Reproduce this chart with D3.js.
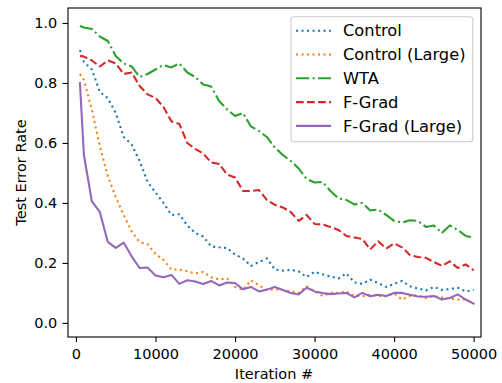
<!DOCTYPE html>
<html>
<head>
<meta charset="utf-8">
<script src="https://cdn.jsdelivr.net/npm/d3@7"></script>
<style>
  body { margin: 0; background: #fff; }
  text { font-family: "DejaVu Sans", sans-serif; }
</style>
</head>
<body>
<svg id="chart" width="502" height="383"></svg>
<script>
// Data
const iterations = [500, 1000, 2000, 3000, 4000, 5000, 6000, 7000, 8000, 9000,
  10000, 11000, 12000, 13000, 14000, 15000, 16000, 17000, 18000, 19000,
  20000, 21000, 22000, 23000, 24000, 25000, 26000, 27000, 28000, 29000,
  30000, 31000, 32000, 33000, 34000, 35000, 36000, 37000, 38000, 39000,
  40000, 41000, 42000, 43000, 44000, 45000, 46000, 47000, 48000, 49000, 50000];

const control = [0.91, 0.87, 0.845, 0.77, 0.75, 0.70, 0.62, 0.595, 0.54, 0.47,
  0.435, 0.40, 0.36, 0.362, 0.325, 0.30, 0.288, 0.255, 0.252, 0.25,
  0.228, 0.215, 0.19, 0.203, 0.215, 0.178, 0.174, 0.177, 0.172, 0.153,
  0.17, 0.162, 0.155, 0.148, 0.165, 0.135, 0.13, 0.144, 0.133, 0.12,
  0.13, 0.14, 0.122, 0.115, 0.108, 0.12, 0.11, 0.113, 0.117, 0.105, 0.11];

const controlLarge = [0.83, 0.81, 0.71, 0.59, 0.49, 0.42, 0.36, 0.305, 0.27, 0.262,
  0.23, 0.21, 0.178, 0.178, 0.172, 0.165, 0.17, 0.152, 0.145, 0.148,
  0.12, 0.11, 0.142, 0.125, 0.11, 0.112, 0.11, 0.105, 0.10, 0.122,
  0.105, 0.09, 0.10, 0.10, 0.105, 0.09, 0.089, 0.094, 0.09, 0.089,
  0.098, 0.078, 0.09, 0.092, 0.083, 0.089, 0.085, 0.082, 0.078, 0.078, 0.065];

const wta = [0.99, 0.985, 0.98, 0.955, 0.94, 0.89, 0.865, 0.855, 0.82, 0.83,
  0.845, 0.86, 0.852, 0.865, 0.835, 0.82, 0.795, 0.788, 0.74, 0.712,
  0.69, 0.70, 0.655, 0.64, 0.62, 0.585, 0.56, 0.54, 0.515, 0.48,
  0.468, 0.47, 0.44, 0.415, 0.41, 0.395, 0.40, 0.375, 0.378, 0.36,
  0.34, 0.335, 0.342, 0.34, 0.32, 0.325, 0.30, 0.325, 0.31, 0.29, 0.285];

const fGrad = [0.89, 0.888, 0.875, 0.855, 0.875, 0.865, 0.83, 0.835, 0.79, 0.762,
  0.75, 0.72, 0.672, 0.663, 0.60, 0.58, 0.565, 0.535, 0.53, 0.495,
  0.485, 0.44, 0.44, 0.443, 0.41, 0.394, 0.385, 0.37, 0.34, 0.36,
  0.33, 0.328, 0.32, 0.31, 0.29, 0.285, 0.28, 0.245, 0.272, 0.248,
  0.265, 0.252, 0.226, 0.22, 0.217, 0.203, 0.19, 0.205, 0.183, 0.195, 0.175];

const fGradLarge = [0.80, 0.56, 0.405, 0.37, 0.27, 0.25, 0.268, 0.222, 0.183, 0.185,
  0.158, 0.152, 0.16, 0.13, 0.142, 0.138, 0.13, 0.14, 0.125, 0.135,
  0.133, 0.112, 0.12, 0.105, 0.111, 0.12, 0.11, 0.10, 0.095, 0.117,
  0.105, 0.10, 0.096, 0.098, 0.10, 0.085, 0.10, 0.089, 0.094, 0.09,
  0.10, 0.10, 0.094, 0.088, 0.087, 0.09, 0.078, 0.083, 0.095, 0.078, 0.064];

const xTicks = [0, 10000, 20000, 30000, 40000, 50000];
const yTicks = [0.0, 0.2, 0.4, 0.6, 0.8, 1.0];

const series = [
  { name: "Control", values: control, color: "#1f77b4", dash: "2.08,3.43" },
  { name: "Control (Large)", values: controlLarge, color: "#ff7f0e", dash: "2.08,3.43" },
  { name: "WTA", values: wta, color: "#2ca02c", dash: "13.3,3.33,2.08,3.33" },
  { name: "F-Grad", values: fGrad, color: "#d62728", dash: "7.7,3.33" },
  { name: "F-Grad (Large)", values: fGradLarge, color: "#9467bd", dash: null }
];

const fontSize = 14.5;
const legendFont = 16.3;
const plotLeft = 68, plotRight = 481, plotTop = 8, plotBottom = 337;

const svg = d3.select("#chart");

const x = d3.scaleLinear().domain([-1000, 50925]).range([plotLeft, plotRight]);
const y = d3.scaleLinear().domain([-0.047, 1.05]).range([plotBottom, plotTop]);

// Axes
const xAxis = svg.append("g")
  .attr("transform", `translate(0,${plotBottom})`)
  .call(d3.axisBottom(x).tickValues(xTicks).tickFormat(d3.format("d"))
    .tickSize(5).tickPadding(6.3));

const yAxis = svg.append("g")
  .attr("transform", `translate(${plotLeft},0)`)
  .call(d3.axisLeft(y).tickValues(yTicks).tickFormat(d3.format(".1f"))
    .tickSize(5.5).tickPadding(5.2));

[xAxis, yAxis].forEach(a => {
  a.select(".domain").remove();
  a.selectAll("line").attr("stroke", "#000").attr("stroke-width", 1.1);
  a.selectAll("text").attr("font-size", fontSize).attr("fill", "#000")
    .attr("font-family", "DejaVu Sans, sans-serif");
});

// Lines
const line = d3.line()
  .x((d, i) => x(iterations[i]))
  .y(d => y(d));

svg.append("g")
  .selectAll("path")
  .data(series)
  .enter().append("path")
  .attr("d", d => line(d.values))
  .attr("fill", "none")
  .attr("stroke", d => d.color)
  .attr("stroke-width", 2.08)
  .attr("stroke-linejoin", "round")
  .attr("stroke-linecap", d => d.dash ? "butt" : "square")
  .attr("stroke-dasharray", d => d.dash);

// Frame
svg.append("rect")
  .attr("x", plotLeft).attr("y", plotTop)
  .attr("width", plotRight - plotLeft).attr("height", plotBottom - plotTop)
  .attr("fill", "none")
  .attr("stroke", "#000")
  .attr("stroke-width", 1.1);

// Axis labels
svg.append("text")
  .attr("x", 274)
  .attr("y", 379)
  .attr("text-anchor", "middle")
  .attr("font-size", fontSize)
  .text("Iteration #");

svg.append("text")
  .attr("transform", `translate(25.5,${(plotTop + plotBottom) / 2}) rotate(-90)`)
  .attr("text-anchor", "middle")
  .attr("font-size", fontSize)
  .text("Test Error Rate");

// Legend
const legend = svg.append("g");
legend.append("rect")
  .attr("x", 291).attr("y", 16.7)
  .attr("width", 181.7).attr("height", 125)
  .attr("rx", 2.8)
  .attr("fill", "#fff").attr("fill-opacity", 0.8)
  .attr("stroke", "#cccccc").attr("stroke-width", 1.1);

const item = legend.selectAll("g.item")
  .data(series)
  .enter().append("g")
  .attr("class", "item")
  .attr("transform", (d, i) => `translate(0,${30.7 + i * 23.8})`);

item.append("line")
  .attr("x1", 296).attr("x2", 331)
  .attr("stroke", d => d.color)
  .attr("stroke-width", 2.08)
  .attr("stroke-dasharray", d => d.dash);

item.append("text")
  .attr("x", 343)
  .attr("dy", "0.35em")
  .attr("font-size", legendFont)
  .text(d => d.name);
</script>
</body>
</html>
